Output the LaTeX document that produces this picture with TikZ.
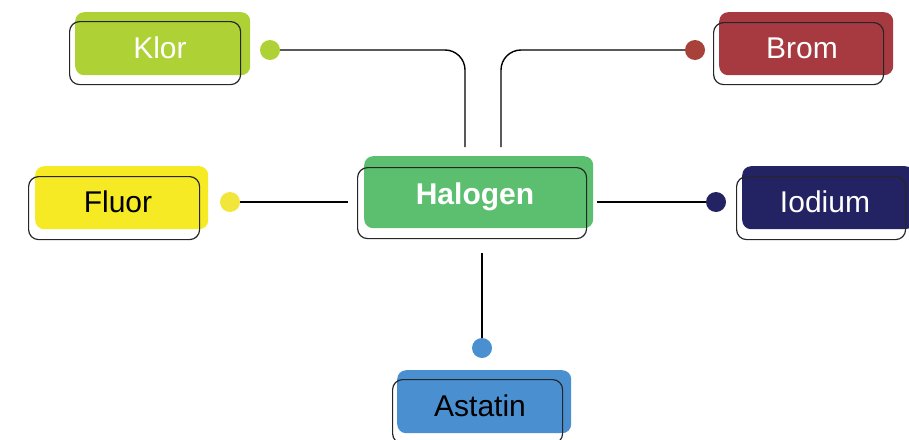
\documentclass[tikz,border=0pt]{standalone}
\usepackage{fontspec}
\setmainfont{Liberation Sans}
\definecolor{cKlor}{HTML}{AED136}
\definecolor{cBrom}{HTML}{A63A40}
\definecolor{cBromDot}{HTML}{A8413A}
\definecolor{cFluor}{HTML}{F5EA23}
\definecolor{cFluorDot}{HTML}{F2E63C}
\definecolor{cHal}{HTML}{5CBF70}
\definecolor{cIod}{HTML}{232262}
\definecolor{cAst}{HTML}{4A90D0}
\tikzset{
  fillbox/.style={draw=none, fill=#1, rounded corners=9pt, inner sep=0pt, anchor=north west},
  outbox/.style={draw=black!85, line width=1.2pt, rounded corners=10pt, inner sep=0pt, anchor=north west},
  lbl/.style={font=\fontsize{30}{34}\selectfont, text=#1, inner sep=0pt},
  dotnode/.style={circle, fill=#1, draw=none, minimum size=20pt, inner sep=0pt},
  conn/.style={draw=black, line width=1.4pt, rounded corners=20pt},
}
\begin{document}
\begin{tikzpicture}[x=1pt,y=-1pt]
\useasboundingbox (0,0) rectangle (909,439);
% Klor
\node[fillbox=cKlor, minimum width=175pt, minimum height=63pt] (klorF) at (75,12) {};
\node[outbox, minimum width=171pt, minimum height=63pt] (klorO) at (69,21) {};
\node[lbl=white] (klor) at (160,48) {Klor};
\node[dotnode=cKlor] (klorD) at (270,50) {};
% Brom
\node[fillbox=cBrom, minimum width=174pt, minimum height=63pt] (bromF) at (719,12) {};
\node[outbox, minimum width=170pt, minimum height=62pt] (bromO) at (713,22) {};
\node[lbl=white] (brom) at (802,48) {Brom};
\node[dotnode=cBromDot] (bromD) at (695,50) {};
% Fluor
\node[fillbox=cFluor, minimum width=173pt, minimum height=63pt] (fluorF) at (35,166) {};
\node[outbox, minimum width=171pt, minimum height=63pt] (fluorO) at (28,176) {};
\node[lbl=black] (fluor) at (118,202) {Fluor};
\node[dotnode=cFluorDot] (fluorD) at (230,202) {};
% Halogen
\node[fillbox=cHal, minimum width=229pt, minimum height=72pt] (halF) at (364,156) {};
\node[outbox, minimum width=229pt, minimum height=71pt] (halO) at (357,167) {};
\node[lbl=white, font=\fontsize{30}{34}\selectfont\bfseries] (hal) at (475,197) {Halogen};
% Iodium
\node[fillbox=cIod, minimum width=172pt, minimum height=63pt] (iodF) at (742,166) {};
\node[outbox, minimum width=169pt, minimum height=63pt] (iodO) at (736,176) {};
\node[lbl=white] (iod) at (825,202) {Iodium};
\node[dotnode=cIod] (iodD) at (716,202) {};
% Astatin
\node[fillbox=cAst, minimum width=174pt, minimum height=63pt] (astF) at (397,370) {};
\node[outbox, minimum width=170pt, minimum height=64pt] (astO) at (392,379) {};
\node[lbl=black] (ast) at (480,406) {Astatin};
\node[dotnode=cAst] (astD) at (482,348) {};
% connector ends
\coordinate (kEnd) at (465,147);
\coordinate (bEnd) at (501,147);
\coordinate (fEnd) at (348,202);
\coordinate (iStart) at (597,202);
\coordinate (aStart) at (482,253);
\draw[conn] (klorD.east) -| (kEnd);
\draw[conn] (bEnd) |- (bromD.west);
\draw[conn] (fluorD.east) -- (fEnd);
\draw[conn] (iStart) -- (iodD.west);
\draw[conn] (aStart) -- (astD.north);
\end{tikzpicture}
\end{document}
